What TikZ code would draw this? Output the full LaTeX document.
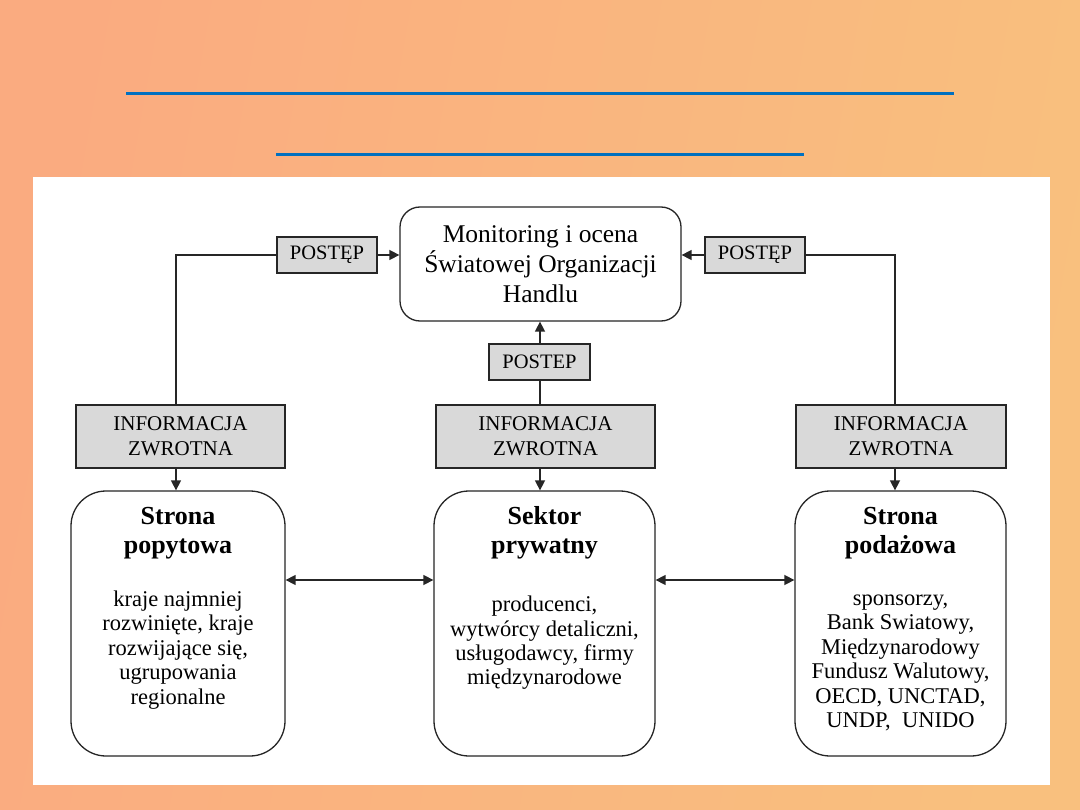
\documentclass[tikz,border=0pt]{standalone}
\usepackage{fontspec}
\setmainfont{Liberation Serif}
\usetikzlibrary{arrows.meta,calc}
\definecolor{bgL}{RGB}{250,171,128}
\definecolor{bgR}{RGB}{249,192,126}
\definecolor{blueline}{RGB}{0,112,192}
\definecolor{boxgray}{RGB}{217,217,217}
\tikzset{
  lbl/.style={draw=black!85,line width=1.3pt,fill=boxgray,inner sep=0pt,align=center,text=black},
  postbox/.style={lbl,minimum width=100pt,minimum height=36pt,font=\fontsize{20.5}{24}\selectfont},
  infobox/.style={lbl,minimum height=63pt,font=\fontsize{21}{25}\selectfont},
  bigbox/.style={draw=black!85,line width=1.3pt,fill=white,rounded corners=35pt,minimum height=265pt,inner sep=0pt},
  ttl/.style={align=center,font=\bfseries\fontsize{26}{29}\selectfont,text=black},
  body/.style={align=center,font=\fontsize{22.5}{24.4}\selectfont,text=black},
  conn/.style={line width=1.5pt,draw=black!85},
  arr/.style={conn,-{Triangle[length=10pt,width=10pt]}},
  darr/.style={conn,{Triangle[length=10pt,width=10pt]}-{Triangle[length=10pt,width=10pt]}}
}
\begin{document}
\begin{tikzpicture}[x=1pt,y=-1pt]
\useasboundingbox (0,0) rectangle (1080,810);
\shade[left color=bgL,right color=bgR,shading angle=80] (0,0) rectangle (1080,810);
\draw[blueline,line width=3pt] (126,94) -- (954,94);
\draw[blueline,line width=3pt] (276,155) -- (804,155);
\fill[white] (33,177) rectangle (1050,785);

\node[draw=black!85,line width=1.3pt,fill=white,rounded corners=20pt,minimum width=281pt,minimum height=114pt,inner sep=0pt,align=center,font=\fontsize{25.5}{30}\selectfont,text=black] (mon) at (540.5,264) {Monitoring i ocena\\Światowej Organizacji\\Handlu};

\node[postbox] (pl) at (327,255) {POSTĘP};
\node[postbox] (pr) at (755,255) {POSTĘP};
\node[postbox,minimum width=101pt] (pc) at (539.5,362) {POSTEP};

\node[infobox,minimum width=209pt] (il) at (180.5,436.5) {INFORMACJA\\ZWROTNA};
\node[infobox,minimum width=219pt] (ic) at (545.5,436.5) {INFORMACJA\\ZWROTNA};
\node[infobox,minimum width=210pt] (ir) at (901,436.5) {INFORMACJA\\ZWROTNA};

\node[bigbox,minimum width=214pt] (bl) at (178,623.5) {};
\node[bigbox,minimum width=221pt] (bc) at (544.5,623.5) {};
\node[bigbox,minimum width=211pt] (br) at (900.5,623.5) {};

\node[ttl] (tl) at (178,533) {Strona\\popytowa};
\node[ttl] (tc) at (544.5,533) {Sektor\\prywatny};
\node[ttl] (tr) at (900.5,533) {Strona\\podażowa};

\node[body] (xl) at (178,650) {kraje najmniej\\rozwinięte, kraje\\rozwijające się,\\ugrupowania\\regionalne};
\node[body] (xc) at (544.5,643) {producenci,\\wytwórcy detaliczni,\\usługodawcy, firmy\\międzynarodowe};
\node[body] (xr) at (900.5,663) {sponsorzy,\\Bank Swiatowy,\\Międzynarodowy\\Fundusz Walutowy,\\OECD, UNCTAD,\\UNDP,\ \ UNIDO};

\coordinate (lx) at (176,0);
\coordinate (cx) at (540,0);
\coordinate (rx) at (895,0);
\coordinate (hy) at (0,580);

\draw[conn] (il.north -| lx) |- (pl.west);
\draw[arr] (pl.east) -- (pl.east -| mon.west);
\draw[conn] (ir.north -| rx) |- (pr.east);
\draw[arr] (pr.west) -- (pr.west -| mon.east);
\draw[conn] (ic.north -| cx) -- (pc.south -| cx);
\draw[arr] (pc.north -| cx) -- (mon.south -| cx);

\draw[arr] (il.south -| lx) -- (bl.north -| lx);
\draw[arr] (ic.south -| cx) -- (bc.north -| cx);
\draw[arr] (ir.south -| rx) -- (br.north -| rx);

\draw[darr] (bl.east |- hy) -- (bc.west |- hy);
\draw[darr] (bc.east |- hy) -- (br.west |- hy);
\end{tikzpicture}
\end{document}
